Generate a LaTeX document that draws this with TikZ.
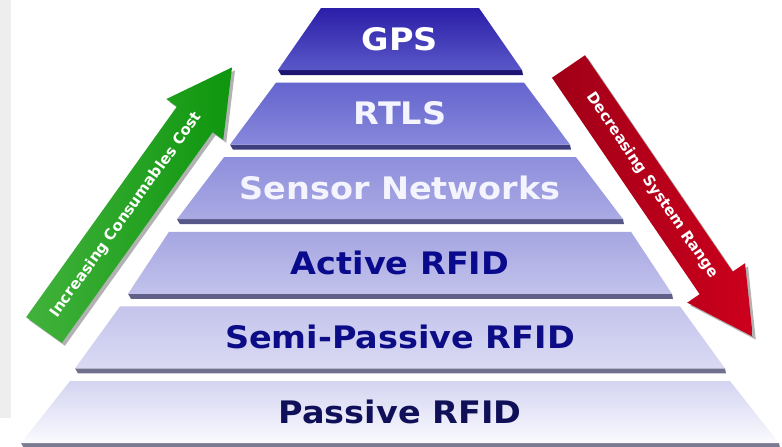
\documentclass[tikz,border=0pt]{standalone}
\usepackage{fontspec}
\setmainfont{DejaVu Sans}
\newfontfamily\tierfont{DejaVu Sans}[FakeStretch=1.08]

\definecolor{stripGray}{RGB}{238,238,238}
\definecolor{gpsTop}{RGB}{42,30,168}
\definecolor{gpsBot}{RGB}{90,88,200}
\definecolor{gpsShd}{RGB}{28,20,112}
\definecolor{gpsTxt}{RGB}{255,255,255}
\definecolor{rtlsTop}{RGB}{100,100,206}
\definecolor{rtlsBot}{RGB}{136,136,220}
\definecolor{rtlsShd}{RGB}{62,62,126}
\definecolor{rtlsTxt}{RGB}{244,244,255}
\definecolor{sensTop}{RGB}{142,142,220}
\definecolor{sensBot}{RGB}{170,170,228}
\definecolor{sensShd}{RGB}{88,88,136}
\definecolor{sensTxt}{RGB}{244,244,255}
\definecolor{actTop}{RGB}{166,166,226}
\definecolor{actBot}{RGB}{194,194,236}
\definecolor{actShd}{RGB}{96,96,136}
\definecolor{actTxt}{RGB}{10,10,140}
\definecolor{semiTop}{RGB}{196,196,236}
\definecolor{semiBot}{RGB}{218,218,244}
\definecolor{semiShd}{RGB}{112,112,142}
\definecolor{semiTxt}{RGB}{12,12,134}
\definecolor{passTop}{RGB}{212,212,242}
\definecolor{passBot}{RGB}{250,250,254}
\definecolor{passShd}{RGB}{122,122,146}
\definecolor{passTxt}{RGB}{16,16,88}
\definecolor{costTail}{RGB}{66,178,60}
\definecolor{costTip}{RGB}{14,150,14}
\definecolor{rangeTail}{RGB}{160,0,24}
\definecolor{rangeTip}{RGB}{204,0,28}

\tikzset{
  tierlabel/.style={font=\tierfont\bfseries\fontsize{31}{31}\selectfont, inner sep=0pt},
  arrowlabel/.style={font=\bfseries\fontsize{15}{15}\selectfont, text=white, inner sep=0pt},
  arrowshadow/.style={fill=black, fill opacity=0.3}
}

\begin{document}
\begin{tikzpicture}[x=1pt,y=-1pt]
\useasboundingbox (0,0) rectangle (782,447);

%Shape: Rectangle (left strip)
\fill [stripGray] (0,0) rectangle (11,418);

% Pyramid tiers
\foreach \i/\nm/\txt/\wt/\wb in {0/gps/GPS/79/122, 1/rtls/RTLS/124/170, 2/sens/Sensor Networks/176/223, 3/act/Active RFID/231/272, 4/semi/Semi-Passive RFID/280/325, 5/pass/Passive RFID/330/379} {
  \pgfmathsetmacro\yt{8+74.6*\i}
  \pgfmathsetmacro\yb{\yt+62}
  %Shape: Edge under tier
  \fill [\nm Shd] (400-\wb,\yb) -- (400+\wb,\yb) -- (401+\wb,\yb+5) -- (403-\wb,\yb+5) -- cycle ;
  %Shape: Trapezoid
  \shade [top color=\nm Top, bottom color=\nm Bot] (400-\wt,\yt) -- (400+\wt,\yt) -- (400+\wb,\yb) -- (400-\wb,\yb) -- cycle ;
  % Text Node
  \node [tierlabel, text=\nm Txt] (\nm) at (400,\yt+31) {\txt};
}

%Shape: Arrow (consumables cost)
\begin{scope}[shift={(47,333)}, rotate=54.4]
  \fill [arrowshadow] (0,-22) -- (259,-22) -- (259,-35) -- (323,0) -- (259,35) -- (259,22) -- (0,22) -- cycle ;
\end{scope}
\begin{scope}[shift={(44,330)}, rotate=54.4]
  \shade [left color=costTail, right color=costTip] (0,-22) -- (259,-22) -- (259,-35) -- (323,0) -- (259,35) -- (259,22) -- (0,22) -- cycle ;
  % Text Node
  \node [arrowlabel, rotate=54.4] (cost) at (141.5,0) {Increasing Consumables Cost};
\end{scope}

%Shape: Arrow (system range)
\begin{scope}[shift={(571.5,69.5)}, rotate=-55.7]
  \fill [arrowshadow] (0,-20) -- (262,-20) -- (262,-35) -- (327,0) -- (262,35) -- (262,20) -- (0,20) -- cycle ;
\end{scope}
\begin{scope}[shift={(568.5,66.5)}, rotate=-55.7]
  \shade [left color=rangeTail, right color=rangeTip] (0,-20) -- (262,-20) -- (262,-35) -- (327,0) -- (262,35) -- (262,20) -- (0,20) -- cycle ;
  % Text Node
  \node [arrowlabel, rotate=-55.7] (range) at (145.5,-2) {Decreasing System Range};
\end{scope}

\end{tikzpicture}
\end{document}
